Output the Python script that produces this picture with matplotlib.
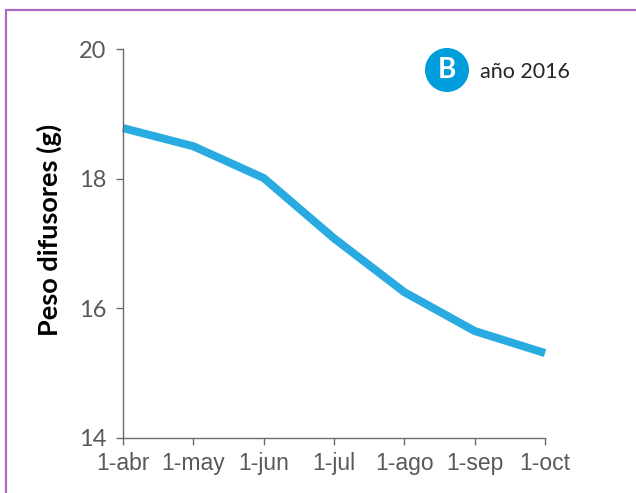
import matplotlib
matplotlib.use('Agg')
import matplotlib.pyplot as plt
from matplotlib.patches import Circle, Rectangle

# datos
meses = ['1-abr', '1-may', '1-jun', '1-jul', '1-ago', '1-sep', '1-oct']
peso = [18.78, 18.50, 18.01, 17.08, 16.25, 15.65, 15.31]
yticks = [14, 16, 18, 20]

W, H = 636, 493
fig = plt.figure(figsize=(W / 100, H / 100), dpi=100)
fig.patch.set_facecolor('white')

# marco morado
fig.add_artist(Rectangle((5.5 / W, -0.1), 1.2, 1 - 10.5 / H + 0.1, transform=fig.transFigure,
                         fill=False, edgecolor='#a86cc1', linewidth=1.6))

ax = fig.add_axes([123 / W, 1 - 438 / H, (545 - 123) / W, (438 - 49) / H])
x = list(range(len(meses)))
ax.plot(x, peso, color='#29abe2', linewidth=5.8, solid_capstyle='butt', clip_on=False)

ax.set_xlim(0, len(meses) - 1)
ax.set_ylim(14, 20)
ax.set_xticks(x)
ax.set_xticklabels(meses, family=['Liberation Sans', 'DejaVu Sans'], fontsize=16.5, color='#595959')
ax.set_yticks(yticks)
ax.set_yticklabels([str(v) for v in yticks], family=['Lato', 'DejaVu Sans'], fontsize=17, color='#595959')
for s in ['top', 'right']:
    ax.spines[s].set_visible(False)
for s in ['left', 'bottom']:
    ax.spines[s].set_color('#6b6b6b')
    ax.spines[s].set_linewidth(1.0)
ax.tick_params(axis='x', length=5, width=1, color='#6b6b6b', pad=5)
ax.tick_params(axis='y', length=5, width=1, color='#6b6b6b', pad=7)

ax.set_ylabel('Peso difusores (g)', family=['Lato', 'DejaVu Sans'], fontweight='bold',
              fontsize=19.5, color='black')
ax.yaxis.set_label_coords((62 - 123) / (545 - 123), (438 - 230) / (438 - 49))

# etiqueta B
fig.add_artist(Circle((447 / 100, (H - 70) / 100), 0.22, transform=fig.dpi_scale_trans,
                      facecolor='#009ddc', edgecolor='none'))
fig.text(447 / W, 1 - 70 / H, 'B', family=['Lato', 'DejaVu Sans'], fontweight='bold',
         fontsize=20, color='white', ha='center', va='center')
fig.text(480 / W, 1 - 72 / H, 'año 2016', family=['Lato', 'DejaVu Sans'],
         fontsize=15.5, color='#262626', ha='left', va='center')

fig.savefig('out.png', dpi=100)
